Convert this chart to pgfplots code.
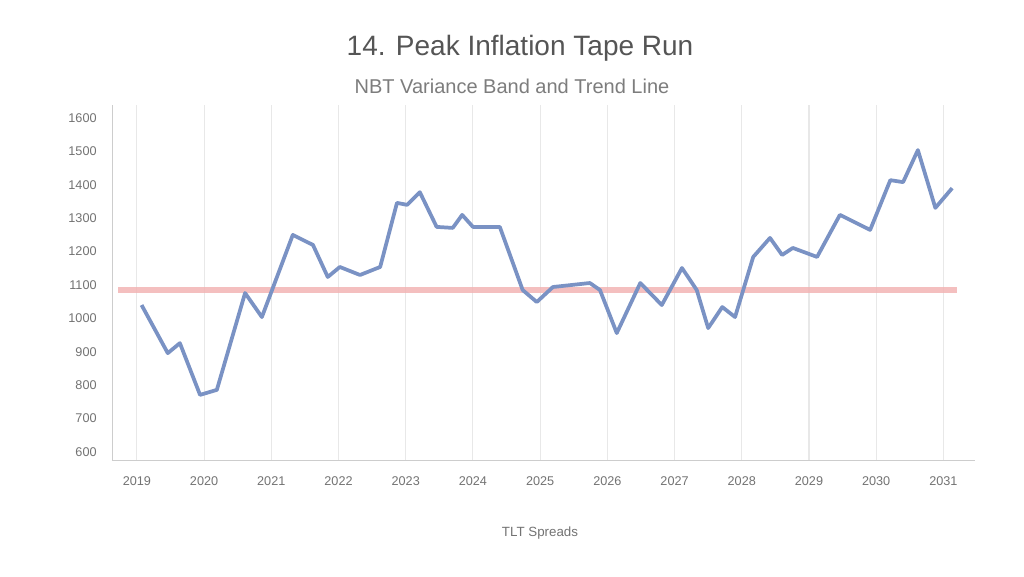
\documentclass[border=0pt]{standalone}
\usepackage{pgfplots}
\pgfplotsset{compat=1.18}
\usepackage{fontspec}
\setmainfont{Liberation Sans}
\definecolor{lineblue}{RGB}{122,146,196}
\definecolor{bandred}{RGB}{242,176,176}
\definecolor{txtgray}{RGB}{85,85,85}
\definecolor{subgray}{RGB}{125,125,125}
\definecolor{tickgray}{RGB}{115,115,115}
\definecolor{gridgray}{RGB}{232,232,232}
\definecolor{spinegray}{RGB}{205,205,205}
\begin{document}
\begin{tikzpicture}
\path[use as bounding box, fill=white] (-84pt,-87pt) rectangle (684pt,345pt);
\begin{axis}[
    scale only axis,
    width=647.25pt, height=266.25pt,
    at={(0,0)}, anchor=south west,
    xmin=-0.37, xmax=12.47,
    ymin=-0.24, ymax=10.39,
    axis x line=bottom, axis y line=left,
    axis line style={spinegray, -},
    xtick={0,...,12},
    xticklabels={2019,2020,2021,2022,2023,2024,2025,2026,2027,2028,2029,2030,2031},
    ytick={0,...,10},
    yticklabels={600,700,800,900,1000,1100,1200,1300,1400,1500,1600},
    major tick length=0pt,
    tick label style={font=\fontsize{9.5}{10}\selectfont, text=tickgray},
    xticklabel style={yshift=-9pt},
    yticklabel style={xshift=-8pt},
    xmajorgrids, grid style={gridgray, line width=0.8pt},
    clip=false,
]
\addplot[bandred, line width=5pt, opacity=0.8] coordinates {(-0.28,4.85) (12.2,4.85)};
\addplot[lineblue, line width=2.8pt, line join=round] coordinates {
(0.07,4.40) (0.46,2.96) (0.64,3.26) (0.94,1.71) (1.19,1.86) (1.61,4.76)
(1.86,4.04) (2.32,6.50) (2.62,6.20) (2.84,5.24) (3.02,5.54) (3.32,5.30)
(3.62,5.54) (3.87,7.46) (4.02,7.40) (4.21,7.78) (4.46,6.74) (4.70,6.71)
(4.84,7.10) (5.00,6.74) (5.40,6.74) (5.74,4.85) (5.95,4.49) (6.19,4.94)
(6.74,5.06) (6.89,4.85) (7.14,3.56) (7.49,5.06) (7.81,4.40) (8.11,5.51)
(8.33,4.85) (8.50,3.71) (8.71,4.34) (8.90,4.04) (9.17,5.84) (9.42,6.41)
(9.60,5.90) (9.76,6.11) (10.12,5.84) (10.46,7.10) (10.91,6.65) (11.21,8.14)
(11.40,8.08) (11.62,9.04) (11.88,7.31) (12.13,7.90)
};
\end{axis}
\node[text=txtgray, font=\fontsize{21}{24}\selectfont] at (306pt,309pt) {14. Peak Inflation Tape Run};
\node[text=subgray, font=\fontsize{15}{18}\selectfont] at (300pt,280.5pt) {NBT Variance Band and Trend Line};
\node[text=tickgray, font=\fontsize{10}{12}\selectfont] at (321pt,-54.75pt) {TLT Spreads};
\end{tikzpicture}
\end{document}
